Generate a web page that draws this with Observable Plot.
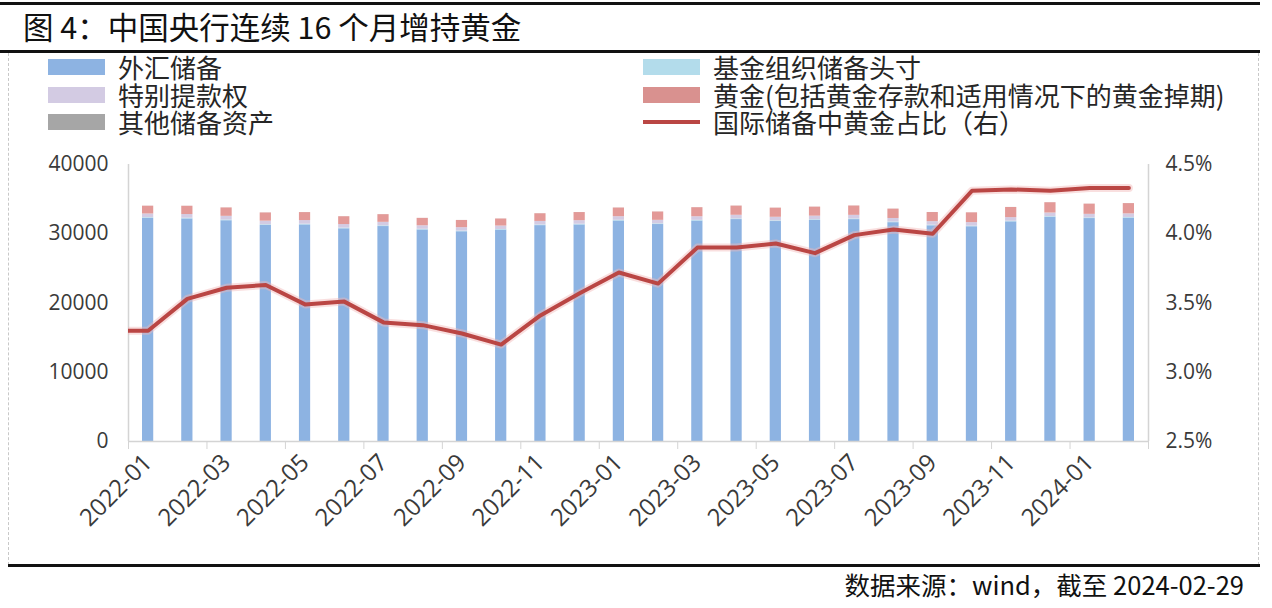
<!DOCTYPE html>
<html>
<head>
<meta charset="utf-8">
<script src="https://cdn.jsdelivr.net/npm/d3@7"></script>
<script src="https://cdn.jsdelivr.net/npm/@observablehq/plot@0.6"></script>
<style>
  html, body { margin: 0; padding: 0; background: #fff; }
  #wrap { position: relative; width: 1272px; height: 608px; background: #fff; overflow: hidden;
          font-family: "Noto Sans CJK SC", "Noto Sans", sans-serif; color: #262626; }
  .hline { position: absolute; left: 0; width: 1260px; background: #111; }
  .vdash { position: absolute; width: 0; border-left: 1px dashed #c8c8c8; }
  #title { position: absolute; left: 23px; top: 5px; font-size: 30.5px; line-height: 42px; color: #111; white-space: nowrap; }
  .leg { position: absolute; font-size: 26px; line-height: 26px; white-space: nowrap; color: #262626; }
  .sw { position: absolute; width: 57px; height: 16px; }
  .swl { position: absolute; width: 57px; height: 4px; }
  #footer { position: absolute; right: 28px; top: 567px; font-size: 25.5px; line-height: 34px; color: #111; white-space: nowrap; }
  #chart { position: absolute; left: 0; top: 0; }
</style>
</head>
<body>
<div id="wrap">
  <div id="chart"></div>
  <div class="hline" style="top:2px;height:3px"></div>
  <div id="title"></div>
  <div class="hline" style="top:50px;height:3px"></div>
  <div class="vdash" style="left:8px;top:53px;height:512px"></div>
  <div class="vdash" style="left:1258px;top:53px;height:512px"></div>
  <div id="legend"></div>
  <div class="hline" style="top:564px;left:8px;width:1252px;height:3px"></div>
  <div id="footer"></div>
</div>
<script>
// ---------- data ----------
const titleText = "图 4：中国央行连续 16 个月增持黄金";
const footerText = "数据来源：wind，截至 2024-02-29";

const months = ["2022-01","2022-02","2022-03","2022-04","2022-05","2022-06","2022-07","2022-08","2022-09","2022-10","2022-11","2022-12",
                "2023-01","2023-02","2023-03","2023-04","2023-05","2023-06","2023-07","2023-08","2023-09","2023-10","2023-11","2023-12",
                "2024-01","2024-02"];

// 外汇储备 (亿美元)
const fxReserves = [32216, 32138, 31880, 31197, 31278, 30713, 31041, 30549, 30290, 30524, 31175, 31277,
                    31845, 31332, 31839, 32048, 31765, 31930, 32043, 31601, 31151, 31012, 31718, 32380,
                    32193, 32258];
// 基金组织储备头寸
const imfPosition = [107, 106, 106, 103, 104, 102, 101, 99, 96, 95, 98, 99,
                     100, 98, 99, 100, 99, 98, 99, 97, 95, 95, 96, 98,
                     97, 97];
// 特别提款权
const sdr = [531, 529, 530, 519, 523, 512, 508, 501, 492, 491, 507, 512,
             518, 509, 515, 519, 515, 512, 516, 508, 501, 500, 511, 516,
             513, 512];
// 黄金
const gold = [1126, 1196, 1213, 1188, 1151, 1132, 1106, 1072, 1040, 1023, 1109, 1172,
              1255, 1204, 1309, 1329, 1320, 1304, 1350, 1351, 1317, 1415, 1469, 1487,
              1473, 1486];
// 其他储备资产
const otherAssets = [8, 9, 8, 8, 7, 7, 7, 6, 6, 6, 7, 7,
                     7, 7, 7, 7, 7, 7, 7, 7, 6, 6, 7, 7,
                     7, 7];
// 国际储备中黄金占比（右）, % — the lead value is the month before 2022-01 (line enters from the left edge)
const goldShareLead = 3.30;
const goldShare = [3.30, 3.53, 3.61, 3.63, 3.49, 3.51, 3.36, 3.34, 3.28, 3.20, 3.41, 3.57,
                   3.72, 3.64, 3.90, 3.90, 3.93, 3.86, 3.99, 4.03, 4.00, 4.31, 4.32, 4.31,
                   4.33, 4.33];

const seriesNames = ["外汇储备", "基金组织储备头寸", "特别提款权", "黄金(包括黄金存款和适用情况下的黄金掉期)", "其他储备资产"];
const seriesColors = ["#8DB3E2", "#B3DCEB", "#D3CBE3", "#E39A98", "#A6A6A6"];
const lineName = "国际储备中黄金占比（右）";
const lineColor = "#BA4644";

const leftTicks = [0, 10000, 20000, 30000, 40000];
const rightTicks = [2.5, 3.0, 3.5, 4.0, 4.5];
const leftDomain = [0, 40000];
const rightDomain = [2.5, 4.5];

// ---------- derived tables ----------
const seriesValues = [fxReserves, imfPosition, sdr, gold, otherAssets];
const barTable = [];
months.forEach((m, i) => {
  seriesNames.forEach((s, k) => {
    barTable.push({i, x1: i - 0.5, x2: i + 0.5, series: s, value: seriesValues[k][i]});
  });
});
const toLeft = v => (v - rightDomain[0]) / (rightDomain[1] - rightDomain[0]) * (leftDomain[1] - leftDomain[0]) + leftDomain[0];
const fromLeft = y => (y - leftDomain[0]) / (leftDomain[1] - leftDomain[0]) * (rightDomain[1] - rightDomain[0]) + rightDomain[0];
const lineTable = [{i: -1, share: goldShareLead}].concat(goldShare.map((s, i) => ({i, share: s})));

const xDomain = [-0.5, months.length - 0.5];
const labelTicks = months.map((m, i) => i).filter(i => i % 2 === 0);
const edgeTicks = d3.range(-0.5, months.length, 2).concat([months.length - 0.5]);

// ---------- plot ----------
const chart = Plot.plot({
  width: 1272,
  height: 608,
  marginLeft: 128,
  marginRight: 124,
  marginTop: 164,
  marginBottom: 167,
  style: {background: "transparent", color: "#3a3a3a", fontFamily: "'Open Sans', sans-serif", overflow: "visible"},
  x: {type: "linear", domain: xDomain, label: null},
  y: {domain: leftDomain, label: null},
  color: {domain: seriesNames, range: seriesColors},
  marks: [
    Plot.rectY(barTable, Plot.stackY({x1: "x1", x2: "x2", y: "value", fill: "series", insetLeft: 14, insetRight: 14})),
    Plot.ruleY([leftDomain[0]], {stroke: "#d4d4d4", strokeWidth: 1.5}),
    Plot.ruleX(xDomain, {stroke: "#d4d4d4", strokeWidth: 1.5}),
    Plot.line(lineTable, {x: "i", y: d => toLeft(d.share), stroke: "#F2B9B7", strokeWidth: 8, strokeOpacity: 0.45, clip: true}),
    Plot.line(lineTable, {x: "i", y: d => toLeft(d.share), stroke: lineColor, strokeWidth: 4, clip: true}),
    Plot.axisY({ticks: leftTicks, anchor: "left", label: null, tickSize: 0, tickPadding: 20, tickFormat: d => String(d), fontSize: 21}),
    Plot.axisY({ticks: rightTicks.map(toLeft), anchor: "right", label: null, tickSize: 0, tickPadding: 17, tickFormat: d => fromLeft(d).toFixed(1) + "%", fontSize: 21}),
    Plot.axisX({ticks: edgeTicks, label: null, tickSize: 8, stroke: "#d4d4d4", tickFormat: () => ""}),
    Plot.axisX({ticks: labelTicks, label: null, tickSize: 0, tickPadding: 17, tickRotate: -45, tickFormat: i => months[i], fontSize: 24})
  ]
});
document.getElementById("chart").appendChild(chart);

// ---------- title, legend, footer ----------
document.getElementById("title").textContent = titleText;
document.getElementById("footer").textContent = footerText;

const legend = document.getElementById("legend");
const legendItems = [
  {name: seriesNames[0], color: seriesColors[0], col: 0, row: 0},
  {name: seriesNames[1], color: seriesColors[1], col: 1, row: 0},
  {name: seriesNames[2], color: seriesColors[2], col: 0, row: 1},
  {name: seriesNames[3], color: "#D9918F", col: 1, row: 1},
  {name: seriesNames[4], color: seriesColors[4], col: 0, row: 2},
  {name: lineName, color: lineColor, col: 1, row: 2, line: true}
];
const colX = [48, 643];
const rowY = [67, 95, 122];
legendItems.forEach(it => {
  const sw = document.createElement("div");
  sw.className = it.line ? "swl" : "sw";
  sw.style.left = colX[it.col] + "px";
  sw.style.top = (rowY[it.row] - (it.line ? 2 : 8)) + "px";
  sw.style.background = it.color;
  legend.appendChild(sw);
  const tx = document.createElement("div");
  tx.className = "leg";
  tx.style.left = (colX[it.col] + 70) + "px";
  tx.style.top = (rowY[it.row] - 13) + "px";
  tx.textContent = it.name;
  legend.appendChild(tx);
});
</script>
</body>
</html>
